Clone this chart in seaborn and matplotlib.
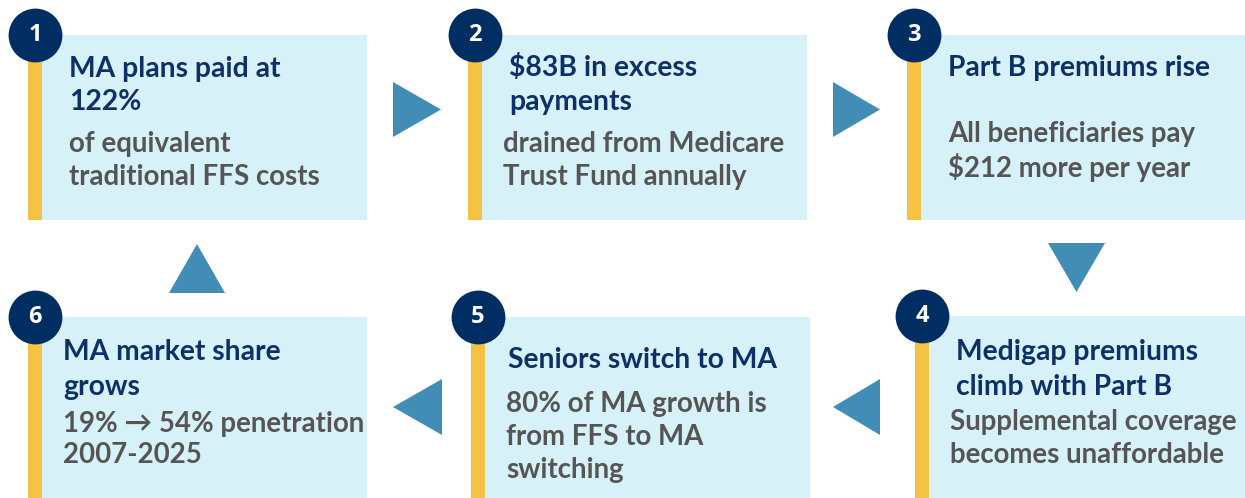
import matplotlib.pyplot as plt
import seaborn as sns
import pandas as pd
from matplotlib.patches import Rectangle, Polygon

# step content
steps = ["1", "2", "3", "4", "5", "6"]
titles = [
    ["MA plans paid at", "122%"],
    ["$83B in excess", "payments"],
    ["Part B premiums rise"],
    ["Medigap premiums", "climb with Part B"],
    ["Seniors switch to MA"],
    ["MA market share", "grows"],
]
bodies = [
    ["of equivalent", "traditional FFS costs"],
    ["drained from Medicare", "Trust Fund annually"],
    ["All beneficiaries pay", "$212 more per year"],
    ["Supplemental coverage", "becomes unaffordable"],
    ["80% of MA growth is", "from FFS to MA", "switching"],
    ["19% \u2192 54% penetration", "2007-2025"],
]

# layout (pixels, y down)
box_x = [28, 468, 907, 915, 471, 28]
box_right = [367, 807, 1245, 1245, 810, 367]
box_top = [35, 35, 35, 316, 317, 317]
box_bottom = [220, 220, 220, 498, 498, 498]
title_x = [69, 509, 948, 956, 508, 63]
title_y = [[77, 110], [76, 110], [76], [360, 395], [368], [360, 395]]
body_x = [69, 503, 948, 950, 506, 63]
body_y = [[152, 185], [152, 185], [142, 177], [430, 463], [412, 445, 478], [432, 463]]

arrows = [
    [(393, 82), (441, 109.5), (393, 137)],
    [(833, 82), (880, 109.5), (833, 137)],
    [(1048, 243), (1105, 243), (1076.5, 292)],
    [(880, 379), (833, 407), (880, 435)],
    [(442, 379), (393, 407), (442, 435)],
    [(169, 293), (225, 293), (197, 244)],
]

NAVY = "#002D62"
TITLE = "#0D3068"
GRAY = "#555555"
FILL = "#D7F1F8"
YELLOW = "#F5C242"
ARROW = "#418DB5"

sns.set_theme(style="white")
plt.rcParams["font.family"] = ["Lato", "DejaVu Sans"]

fig = plt.figure(figsize=(12.45, 4.98), dpi=100)
ax = fig.add_axes([0, 0, 1, 1])

for i in range(len(steps)):
    ax.add_patch(Rectangle((box_x[i], box_top[i]), box_right[i] - box_x[i],
                           box_bottom[i] - box_top[i], color=FILL, lw=0, zorder=1))
    ax.add_patch(Rectangle((box_x[i], box_top[i]), 14,
                           box_bottom[i] - box_top[i], color=YELLOW, lw=0, zorder=2))
    for line, y in zip(titles[i], title_y[i]):
        ax.text(title_x[i], y, line, fontsize=20.3, fontweight="bold", color=TITLE,
                ha="left", va="baseline", zorder=4)
    for line, y in zip(bodies[i], body_y[i]):
        ax.text(body_x[i], y, line, fontsize=19.9, fontweight="bold", color=GRAY,
                ha="left", va="baseline", zorder=4)

for tri in arrows:
    ax.add_patch(Polygon(tri, closed=True, color=ARROW, lw=0, zorder=1))

badges = pd.DataFrame({
    "x": [b + 7 for b in box_x],
    "y": box_top,
    "label": steps,
})
sns.scatterplot(data=badges, x="x", y="y", s=1500, color=NAVY, linewidth=0,
                ax=ax, zorder=3, legend=False)
for _, r in badges.iterrows():
    ax.text(r["x"], r["y"], r["label"], fontsize=17, fontweight="bold", color="white",
            ha="center", va="center", zorder=5, family=["Open Sans", "DejaVu Sans"])

ax.set_xlim(0, 1245)
ax.set_ylim(498, 0)
ax.axis("off")
fig.savefig("out.png", dpi=100)
